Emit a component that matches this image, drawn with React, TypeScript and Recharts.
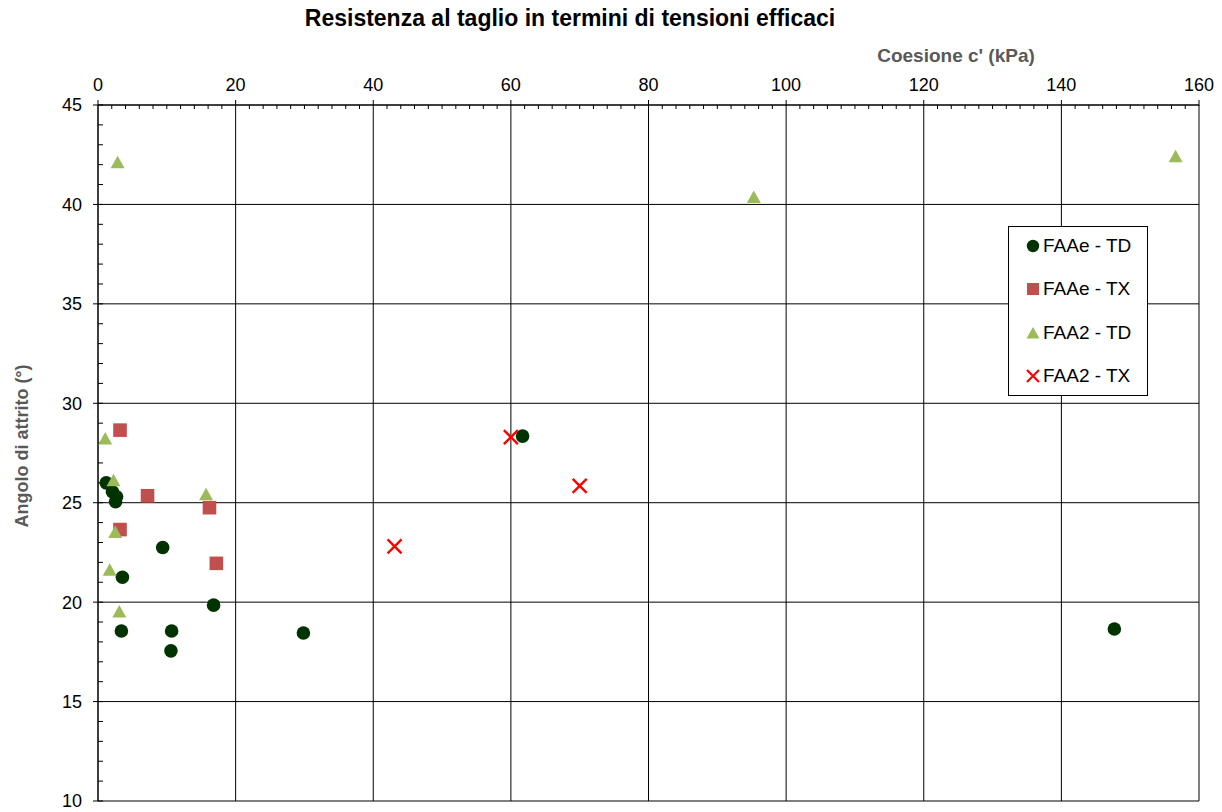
import React from 'react';
import { ScatterChart, Scatter, XAxis, YAxis, CartesianGrid } from 'recharts';

// coesione c' (kPa) / angolo di attrito (°) per ciascuna serie
const faaeTdC = [1.2, 2.1, 2.7, 2.55, 9.4, 3.55, 16.8, 3.4, 10.7, 10.6, 29.85, 61.7, 147.7];
const faaeTdPhi = [26.0, 25.55, 25.3, 25.05, 22.75, 21.25, 19.85, 18.55, 18.55, 17.55, 18.45, 28.35, 18.65];

const faaeTxC = [3.2, 7.2, 16.2, 3.2, 17.2];
const faaeTxPhi = [28.65, 25.35, 24.75, 23.65, 21.95];

const faa2TdC = [1.05, 2.25, 15.7, 2.5, 1.7, 3.1, 2.85, 95.3, 156.6];
const faa2TdPhi = [28.2, 26.1, 25.4, 23.5, 21.6, 19.5, 42.1, 40.35, 42.4];

const faa2TxC = [60.0, 70.0, 43.1];
const faa2TxPhi = [28.3, 25.85, 22.8];

const seriesNames = ['FAAe - TD', 'FAAe - TX', 'FAA2 - TD', 'FAA2 - TX'];

const cTicks = [0, 20, 40, 60, 80, 100, 120, 140, 160];
const phiTicks = [10, 15, 20, 25, 30, 35, 40, 45];
const cMinor = Array.from({ length: 81 }, (_, i) => i * 2);
const phiMinor = Array.from({ length: 36 }, (_, i) => 10 + i);

const toRows = (c: number[], phi: number[]) => c.map((v, i) => ({ c: v, phi: phi[i] }));

const COLORS = {
  dot: '#003300',
  square: '#C0504D',
  tri: '#9BBB59',
  cross: '#FF0000',
};

const DotShape = (p: any) => <circle cx={p.cx} cy={p.cy} r={6.8} fill={COLORS.dot} />;
const SquareShape = (p: any) => (
  <rect x={p.cx - 6.8} y={p.cy - 6.8} width={13.6} height={13.6} fill={COLORS.square} />
);
const TriShape = (p: any) => (
  <polygon
    points={`${p.cx},${p.cy - 7} ${p.cx + 7},${p.cy + 5.5} ${p.cx - 7},${p.cy + 5.5}`}
    fill={COLORS.tri}
  />
);
const CrossShape = (p: any) => (
  <path
    d={`M${p.cx - 7},${p.cy - 7}L${p.cx + 7},${p.cy + 7}M${p.cx + 7},${p.cy - 7}L${p.cx - 7},${p.cy + 7}`}
    stroke={COLORS.cross}
    strokeWidth={2.4}
    fill="none"
  />
);

const legendIcons = [
  <circle cx={7} cy={7} r={6.2} fill={COLORS.dot} />,
  <rect x={1} y={1} width={12} height={12} fill={COLORS.square} />,
  <polygon points="7,1 13.5,12.5 0.5,12.5" fill={COLORS.tri} />,
  <path d="M1,1L13,13M13,1L1,13" stroke={COLORS.cross} strokeWidth={2.2} />,
];

const font = '"Liberation Sans", Arial, sans-serif';
const noLabel = () => <g />;

// the x axis carries every 2 kPa: majors get a label and an outward tick, minors an inward tick
const X_TICK_SIZE = 5;
const X_TICK_MARGIN = 9;
const CohesionTick = (p: any) => {
  const v = p.payload.value;
  const x = p.x;
  const top = p.y + X_TICK_SIZE + X_TICK_MARGIN;
  if (cTicks.includes(v)) {
    return (
      <g>
        <line x1={x} x2={x} y1={top - 5} y2={top + 1} stroke="#000" />
        <text x={x} y={p.y} textAnchor="middle" fontSize={18} fill="#000" fontFamily={font}>
          {v}
        </text>
      </g>
    );
  }
  return <line x1={x} x2={x} y1={top} y2={top + 4} stroke="#000" />;
};

export default function App() {
  return (
    <div style={{ position: 'absolute', left: 0, top: 0, width: 1222, height: 812, fontFamily: font, background: '#fff' }}>
      <div
        style={{
          position: 'absolute', left: 270, width: 600, top: 5, textAlign: 'center',
          fontSize: 23, fontWeight: 'bold', color: '#000', lineHeight: '26px',
        }}
      >
        Resistenza al taglio in termini di tensioni efficaci
      </div>
      <div
        style={{
          position: 'absolute', left: 856, width: 200, top: 44, textAlign: 'center',
          fontSize: 19, fontWeight: 'bold', color: '#595959', lineHeight: '24px',
        }}
      >
        Coesione c' (kPa)
      </div>
      <div style={{ position: 'absolute', left: 22, top: 446, width: 0, height: 0 }}>
        <div
          style={{
            position: 'absolute', left: -120, top: -12, width: 240, textAlign: 'center',
            transform: 'rotate(-90deg)', fontSize: 18, fontWeight: 'bold', color: '#595959',
            whiteSpace: 'nowrap', lineHeight: '24px',
          }}
        >
          Angolo di attrito (°)
        </div>
      </div>

      <ScatterChart width={1222} height={812} margin={{ top: 75, right: 23, bottom: 11, left: 38 }}>
        <CartesianGrid xAxisId="c" yAxisId="phi" stroke="#000" strokeWidth={1} verticalValues={cTicks} horizontalValues={phiTicks} />
        <XAxis
          xAxisId="c" dataKey="c" type="number" orientation="top" domain={[0, 160]} ticks={cMinor}
          interval={0} height={30} tickSize={X_TICK_SIZE} tickMargin={X_TICK_MARGIN} stroke="#000"
          tickLine={false} tick={CohesionTick}
          allowDataOverflow
        />
        <YAxis
          yAxisId="phi" dataKey="phi" type="number" domain={[10, 45]} ticks={phiTicks}
          width={60} tickSize={5} tickMargin={11} stroke="#000"
          tick={{ fontSize: 18, fill: '#000', fontFamily: font }}
          allowDataOverflow
        />
        <YAxis
          yAxisId="phiMinor" type="number" domain={[10, 45]} ticks={phiMinor}
          mirror tick={noLabel} axisLine={false} tickSize={5} stroke="#000" interval={0}
          allowDataOverflow
        />
        <Scatter xAxisId="c" yAxisId="phi" name={seriesNames[0]} data={toRows(faaeTdC, faaeTdPhi)} shape={DotShape} isAnimationActive={false} />
        <Scatter xAxisId="c" yAxisId="phi" name={seriesNames[1]} data={toRows(faaeTxC, faaeTxPhi)} shape={SquareShape} isAnimationActive={false} />
        <Scatter xAxisId="c" yAxisId="phi" name={seriesNames[2]} data={toRows(faa2TdC, faa2TdPhi)} shape={TriShape} isAnimationActive={false} />
        <Scatter xAxisId="c" yAxisId="phi" name={seriesNames[3]} data={toRows(faa2TxC, faa2TxPhi)} shape={CrossShape} isAnimationActive={false} />
      </ScatterChart>

      <div
        style={{
          position: 'absolute', left: 1008, top: 226, width: 140, height: 170,
          border: '1px solid #000', background: '#fff', boxSizing: 'border-box',
        }}
      >
        {seriesNames.map((n, i) => (
          <div
            key={n}
            style={{
              position: 'absolute', left: 17, top: 8 + i * 43.3, height: 22,
              display: 'flex', alignItems: 'center', fontSize: 19, color: '#000', whiteSpace: 'nowrap',
            }}
          >
            <svg width={14} height={14} style={{ marginRight: 3 }}>{legendIcons[i]}</svg>
            {n}
          </div>
        ))}
      </div>
    </div>
  );
}
